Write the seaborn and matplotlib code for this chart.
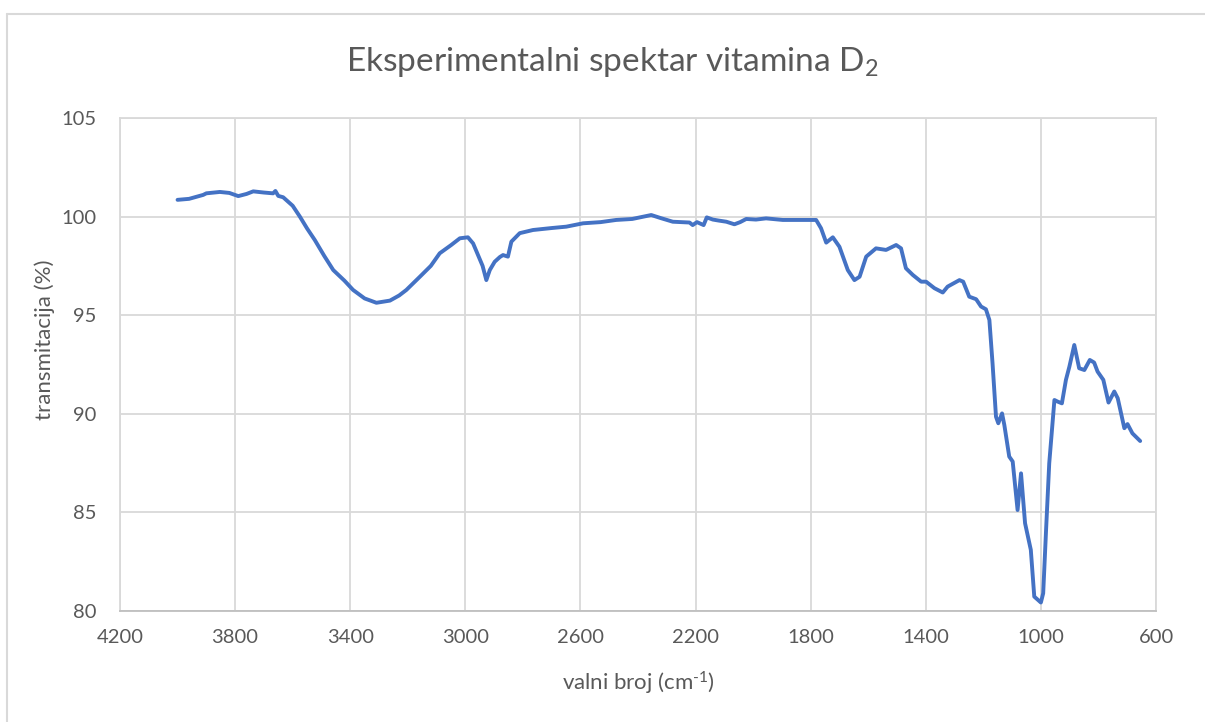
import matplotlib
matplotlib.use("Agg")
import matplotlib.pyplot as plt
import seaborn as sns
import pandas as pd
from matplotlib.lines import Line2D

wavenumber = [4000, 3960, 3911, 3900, 3853, 3820, 3789, 3760, 3737, 3700, 3668, 3660, 3650, 3633,
              3600, 3575, 3550, 3523, 3490, 3459, 3420, 3390, 3350, 3309, 3262, 3230, 3205, 3158,
              3120, 3089, 3050, 3019, 2991, 2973, 2956, 2940, 2927, 2915, 2898, 2880, 2869, 2852,
              2840, 2811, 2765, 2700, 2649, 2591, 2530, 2476, 2420, 2394, 2354, 2320, 2279, 2221,
              2210, 2195, 2172, 2161, 2140, 2120, 2093, 2065, 2045, 2024, 1990, 1955, 1897, 1781,
              1764, 1746, 1723, 1700, 1671, 1648, 1630, 1607, 1573, 1538, 1503, 1486, 1469, 1445,
              1416, 1399, 1370, 1341, 1324, 1283, 1270, 1249, 1225, 1208, 1191, 1179, 1168, 1156,
              1148, 1135, 1127, 1110, 1098, 1081, 1069, 1055, 1035, 1023, 1000, 992, 982, 971,
              953, 942, 927, 913, 901, 884, 867, 849, 830, 815, 803, 783, 765, 745, 733, 710,
              699, 682, 655]
transmittance = [100.85, 100.90, 101.10, 101.18, 101.25, 101.20, 101.04, 101.15, 101.28, 101.22, 101.18, 101.30, 101.05, 100.98,
                 100.55, 100.00, 99.40, 98.81, 98.00, 97.29, 96.75, 96.28, 95.85, 95.63, 95.74, 96.00, 96.28, 96.95,
                 97.50, 98.14, 98.55, 98.90, 98.95, 98.64, 98.05, 97.50, 96.78, 97.29, 97.71, 97.95, 98.05, 97.97,
                 98.73, 99.16, 99.32, 99.42, 99.49, 99.66, 99.72, 99.83, 99.88, 99.96, 100.08, 99.92, 99.74, 99.70,
                 99.57, 99.72, 99.57, 99.96, 99.85, 99.80, 99.74, 99.61, 99.72, 99.88, 99.85, 99.91, 99.83, 99.83,
                 99.41, 98.68, 98.95, 98.47, 97.29, 96.78, 96.95, 97.97, 98.39, 98.31, 98.56, 98.39, 97.38, 97.04,
                 96.70, 96.70, 96.37, 96.15, 96.45, 96.78, 96.70, 95.94, 95.81, 95.44, 95.30, 94.76, 92.56, 89.85,
                 89.52, 90.02, 89.43, 87.83, 87.58, 85.12, 86.98, 84.45, 83.10, 80.73, 80.43, 80.90, 84.11, 87.49,
                 90.70, 90.62, 90.53, 91.72, 92.39, 93.49, 92.31, 92.22, 92.73, 92.60, 92.14, 91.72, 90.57, 91.13, 90.79, 89.27,
                 89.48, 89.01, 88.62]

x_ticks = [4200, 3800, 3400, 3000, 2600, 2200, 1800, 1400, 1000, 600]
y_ticks = [80, 85, 90, 95, 100, 105]

title = "Eksperimentalni spektar vitamina D$_2$"
x_label = "valni broj (cm$^{\u2010 1}$)"
y_label = "transmitacija (%)"

df = pd.DataFrame({"wn": wavenumber, "T": transmittance})

sns.set_theme(style="whitegrid")
plt.rcParams["font.family"] = ["Lato", "DejaVu Sans"]
plt.rcParams["mathtext.default"] = "regular"

W, H = 1205, 722
fig = plt.figure(figsize=(W / 100, H / 100), dpi=100)
ax = fig.add_axes([120 / W, 1 - 611 / H, (1156 - 120) / W, (611 - 118) / H])

sns.lineplot(data=df, x="wn", y="T", ax=ax, color="#4472C4", linewidth=2.8, sort=False)

ax.set_xlim(4200, 600)
ax.set_ylim(80, 105)
ax.set_xticks(x_ticks)
ax.set_yticks(y_ticks)
ax.grid(True, color="#D9D9D9", linewidth=1.3)
for s in ["top", "left", "right"]:
    ax.spines[s].set_color("#D9D9D9")
    ax.spines[s].set_linewidth(1.3)
ax.spines["bottom"].set_color("#BFBFBF")
ax.spines["bottom"].set_linewidth(1.3)
ax.tick_params(axis="both", length=0, labelsize=14.5, colors="#595959")
ax.tick_params(axis="x", pad=13)
ax.tick_params(axis="y", pad=17)
ax.set_xlabel("")
ax.set_ylabel("")

fig.text(45 / W, 1 - 340 / H, y_label, rotation=90, ha="center", va="center", fontsize=16, color="#595959")
fig.text(638 / W, 1 - 683 / H, x_label, ha="center", va="center", fontsize=16, color="#595959")
fig.text(612 / W, 1 - 62 / H, title, ha="center", va="center", fontsize=24, color="#595959")

fig.add_artist(Line2D([7 / W, 1.0], [1 - 14 / H, 1 - 14 / H], transform=fig.transFigure, color="#D9D9D9", linewidth=1.5))
fig.add_artist(Line2D([7 / W, 7 / W], [1 - 14 / H, 0.0], transform=fig.transFigure, color="#D9D9D9", linewidth=1.5))

fig.savefig("out.png", dpi=100, facecolor="white")
